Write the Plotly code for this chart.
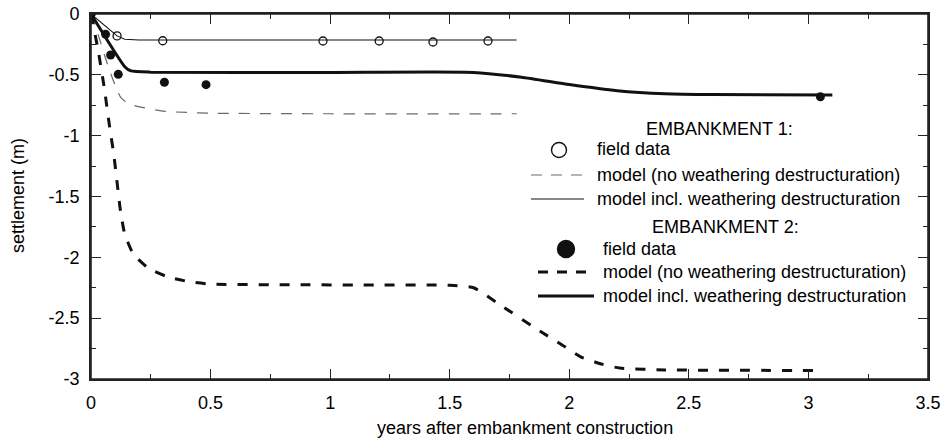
import plotly.graph_objects as go

# ---------------- data ----------------
# Embankment 1 (open circles, thin lines)
emb1_field_t = [0.0, 0.109, 0.30, 0.97, 1.205, 1.43, 1.66]
emb1_field_s = [0.0, -0.18, -0.22, -0.222, -0.222, -0.23, -0.222]

emb1_noweath_t = [0.0, 0.03, 0.06, 0.09, 0.11, 0.126, 0.16, 0.22, 0.31, 0.5, 1.0, 1.78]
emb1_noweath_s = [0.0, -0.17, -0.36, -0.53, -0.63, -0.69, -0.74, -0.77, -0.80, -0.815, -0.82, -0.82]

emb1_weath_t = [0.0, 0.109, 0.141, 0.2, 1.0, 1.78]
emb1_weath_s = [0.0, -0.18, -0.208, -0.214, -0.214, -0.214]

# Embankment 2 (filled circles, thick lines)
emb2_field_t = [0.0, 0.061, 0.082, 0.114, 0.307, 0.481, 3.05]
emb2_field_s = [0.0, -0.167, -0.337, -0.496, -0.561, -0.581, -0.68]

emb2_noweath_t = [0.0, 0.03, 0.055, 0.078, 0.095, 0.11, 0.122, 0.14, 0.176, 0.24, 0.32, 0.41,
                  0.5, 0.8, 1.2, 1.5, 1.6, 1.71, 1.88, 1.97, 2.05, 2.14, 2.21, 2.4, 3.05]
emb2_noweath_s = [0.0, -0.3, -0.6, -0.93, -1.15, -1.4, -1.6, -1.8, -1.97, -2.09, -2.16, -2.2,
                  -2.22, -2.225, -2.228, -2.23, -2.25, -2.39, -2.61, -2.72, -2.82, -2.88, -2.91, -2.925, -2.93]

emb2_weath_t = [0.0, 0.141, 0.167, 0.25, 1.0, 1.6, 1.8, 2.0, 2.2, 2.4, 2.6, 3.1]
emb2_weath_s = [0.0, -0.433, -0.468, -0.478, -0.48, -0.48, -0.52, -0.58, -0.63, -0.655, -0.662, -0.665]

x_tick_vals = [0, 0.5, 1, 1.5, 2, 2.5, 3, 3.5]
x_tick_text = ["0", "0.5", "1", "1.5", "2", "2.5", "3", "3.5"]
y_tick_vals = [0, -0.5, -1, -1.5, -2, -2.5, -3]
y_tick_text = ["0", "-0.5", "-1", "-1.5", "-2", "-2.5", "-3"]

# ---------------- styling ----------------
FONT = "Liberation Sans, Arial, sans-serif"
FS = 18
W, H = 948, 448
ML, MR, MT, MB = 91, 20, 14, 69
THIN_GREY = "#6a6a6a"
INK = "#111111"
FRAME = "#222222"

fig = go.Figure()

fig.add_trace(go.Scatter(x=emb1_noweath_t, y=emb1_noweath_s, mode="lines",
                         line=dict(color=THIN_GREY, width=1.2, dash="11px,10px", shape="spline", smoothing=0.6),
                         showlegend=False))
fig.add_trace(go.Scatter(x=emb1_weath_t, y=emb1_weath_s, mode="lines",
                         line=dict(color=INK, width=1.1), showlegend=False))
fig.add_trace(go.Scatter(x=emb2_noweath_t, y=emb2_noweath_s, mode="lines",
                         line=dict(color=INK, width=3, dash="10px,11px", shape="spline", smoothing=0.5),
                         showlegend=False))
fig.add_trace(go.Scatter(x=emb2_weath_t, y=emb2_weath_s, mode="lines",
                         line=dict(color=INK, width=3, shape="spline", smoothing=0.5),
                         showlegend=False))
fig.add_trace(go.Scatter(x=emb1_field_t, y=emb1_field_s, mode="markers",
                         marker=dict(symbol="circle-open", size=8, color=INK, line=dict(width=1.3)),
                         showlegend=False))
fig.add_trace(go.Scatter(x=emb2_field_t, y=emb2_field_s, mode="markers",
                         marker=dict(symbol="circle", size=9, color=INK),
                         showlegend=False))


# ---------------- hand-laid legend (paper coordinates from pixel layout) ----------------
def px(xp):
    return (xp - ML) / (W - ML - MR)


def py(yp):
    return (H - MB - yp) / (H - MT - MB)


shapes = []
annotations = []


def label(x, y, text, anchor="left", angle=0):
    annotations.append(dict(x=px(x), y=py(y), xref="paper", yref="paper", text=text,
                            showarrow=False, xanchor=anchor, yanchor="middle", textangle=angle,
                            font=dict(family=FONT, size=FS, color="black")))


def sample_line(x0, x1, y, width, color, dash):
    shapes.append(dict(type="line", xref="paper", yref="paper", x0=px(x0), x1=px(x1),
                       y0=py(y), y1=py(y), line=dict(color=color, width=width, dash=dash)))


def sample_dot(x, y, d, filled):
    shapes.append(dict(type="circle", xref="paper", yref="paper", xsizemode="pixel", ysizemode="pixel",
                       xanchor=px(x), yanchor=py(y), x0=-d / 2, x1=d / 2, y0=-d / 2, y1=d / 2,
                       fillcolor=INK if filled else "white", line=dict(color=INK, width=1.4)))


# plot frame, one side at a time
for x0, y0, x1, y1 in [(0, 0, 1, 0), (0, 1, 1, 1), (0, 0, 0, 1), (1, 0, 1, 1)]:
    shapes.append(dict(type="line", xref="paper", yref="paper", x0=x0, y0=y0, x1=x1, y1=y1,
                       line=dict(color=FRAME, width=1.6), layer="above"))

label(719, 129, "EMBANKMENT 1:", "center")
sample_dot(559, 150, 15, False)
label(595, 149, "field data")
sample_line(531, 584, 175, 1.2, THIN_GREY, "11px,9px")
label(595, 175, "model (no weathering destructuration)")
sample_line(531, 584, 199, 1.1, INK, "solid")
label(595, 199, "model incl. weathering destructuration")

label(725, 227, "EMBANKMENT 2:", "center")
sample_dot(566, 249, 17, True)
label(601, 249, "field data")
sample_line(538, 591, 272, 3, INK, "10px,9px")
label(601, 272, "model (no weathering destructuration)")
sample_line(538, 594, 296, 3, INK, "solid")
label(601, 296, "model incl. weathering destructuration")

# axis titles
label(525, 428, "years after embankment construction", "center")
label(18, 196, "settlement (m)", "center", -90)

axis_common = dict(
    showgrid=False, zeroline=False, showline=True, linecolor=FRAME, linewidth=1.6,
    automargin=False,
    mirror="ticks", ticks="inside", ticklen=10, tickwidth=1.2, tickcolor=FRAME,
    tickfont=dict(family=FONT, size=FS, color="black"),
    minor=dict(ticks="inside", ticklen=5, tickwidth=1.1, tickcolor=FRAME, showgrid=False),
)

fig.update_layout(
    width=W, height=H,
    margin=dict(l=ML, r=MR, t=MT, b=MB, autoexpand=False),
    paper_bgcolor="white", plot_bgcolor="white",
    font=dict(family=FONT, size=FS, color="black"),
    showlegend=False,
    shapes=shapes,
    annotations=annotations,
    xaxis=dict(range=[0, 3.5], tickmode="array", tickvals=x_tick_vals, ticktext=x_tick_text,
               ticklabelstandoff=7, **axis_common),
    yaxis=dict(range=[-3, 0], tickmode="array", tickvals=y_tick_vals, ticktext=y_tick_text,
               ticklabelstandoff=6, **axis_common),
)
fig.update_xaxes(minor_dtick=0.25, minor_tick0=0)
fig.update_yaxes(minor_dtick=0.25, minor_tick0=0)

fig.write_html("out.html")
